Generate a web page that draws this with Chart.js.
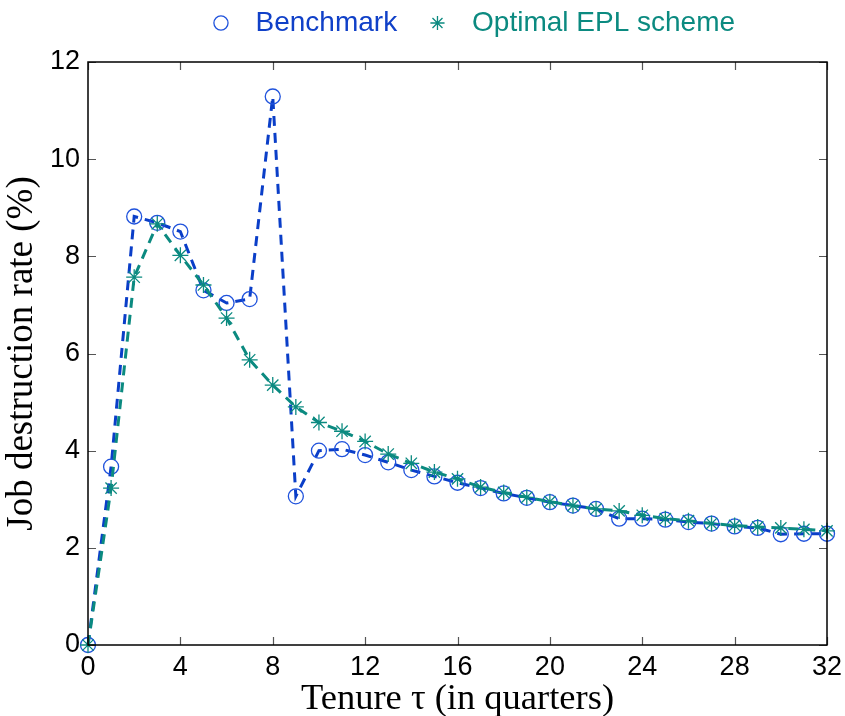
<!DOCTYPE html>
<html>
<head>
<meta charset="utf-8">
<script src="https://cdn.jsdelivr.net/npm/chart.js@4/dist/chart.umd.min.js"></script>
<style>
html,body{margin:0;padding:0;background:#fff;}
#wrap{width:845px;height:716px;position:relative;}
</style>
</head>
<body>
<div id="wrap"><canvas id="c" width="845" height="716"></canvas></div>
<script>
const tenure = [0,1,2,3,4,5,6,7,8,9,10,11,12,13,14,15,16,17,18,19,20,21,22,23,24,25,26,27,28,29,30,31,32];
const benchmark = [0,3.67,8.82,8.69,8.51,7.30,7.04,7.12,11.29,3.06,4.00,4.03,3.91,3.76,3.60,3.47,3.34,3.23,3.12,3.03,2.94,2.87,2.80,2.60,2.60,2.58,2.53,2.50,2.44,2.41,2.28,2.29,2.29];
const optimalEPL = [0,3.23,7.57,8.67,8.02,7.41,6.73,5.87,5.35,4.90,4.58,4.40,4.19,3.93,3.74,3.56,3.42,3.25,3.14,3.04,2.95,2.87,2.80,2.76,2.67,2.60,2.56,2.50,2.46,2.43,2.41,2.38,2.35];
const xTicks = [0,4,8,12,16,20,24,28,32];
const yTicks = [0,2,4,6,8,10,12];
const seriesNames = ['Benchmark','Optimal EPL scheme'];

const BLUE = '#0a3ec8';
const BLUE_PT = '#1f52dc';
const TEAL = '#0b8a80';

const boxPlugin = {
  id: 'boxTicks',
  afterLayout(chart) {
    const lg = chart.legend;
    if (lg) {
      const dx = 62, dy = -15;
      lg.left += dx; lg.right += dx;
      lg.top += dy; lg.bottom += dy;
    }
  },
  afterDatasetsDraw(chart) {
    const {ctx, chartArea: a, scales: {x, y}} = chart;
    ctx.save();
    ctx.strokeStyle = '#555';
    ctx.lineWidth = 1.2;
    const L = 8;
    ctx.beginPath();
    xTicks.forEach(v => {
      const px = Math.round(x.getPixelForValue(v)) + 0.5;
      ctx.moveTo(px, a.bottom); ctx.lineTo(px, a.bottom - L);
      ctx.moveTo(px, a.top); ctx.lineTo(px, a.top + L);
    });
    yTicks.forEach(v => {
      const py = Math.round(y.getPixelForValue(v)) + 0.5;
      ctx.moveTo(a.left, py); ctx.lineTo(a.left + L, py);
      ctx.moveTo(a.right, py); ctx.lineTo(a.right - L, py);
    });
    ctx.stroke();
    ctx.strokeStyle = '#000';
    ctx.lineWidth = 1.5;
    ctx.strokeRect(a.left, a.top, a.right - a.left, a.bottom - a.top);
    ctx.restore();
  }
};

new Chart(document.getElementById('c'), {
  type: 'line',
  data: {
    labels: tenure,
    datasets: [
      {
        label: seriesNames[0],
        data: tenure.map((t,i) => ({x: t, y: benchmark[i]})),
        borderColor: BLUE,
        borderWidth: 3,
        borderDash: [10, 7],
        pointStyle: 'circle',
        pointRadius: 7.5,
        pointBorderWidth: 1.3,
        pointBorderColor: BLUE_PT,
        pointBackgroundColor: 'rgba(0,0,0,0)',
        backgroundColor: 'rgba(0,0,0,0)',
        tension: 0,
        order: 2,
        clip: false
      },
      {
        label: seriesNames[1],
        data: tenure.map((t,i) => ({x: t, y: optimalEPL[i]})),
        borderColor: TEAL,
        borderWidth: 3,
        borderDash: [10, 7],
        pointStyle: 'star',
        pointRadius: 8,
        pointBorderWidth: 1.3,
        pointBorderColor: TEAL,
        pointBackgroundColor: TEAL,
        backgroundColor: 'rgba(0,0,0,0)',
        tension: 0,
        order: 1,
        clip: false
      }
    ]
  },
  options: {
    responsive: false,
    animation: false,
    devicePixelRatio: 1,
    layout: {padding: {left: 0, right: 18, top: 12, bottom: 0}},
    plugins: {
      tooltip: {enabled: false},
      legend: {
        position: 'top',
        labels: {
          usePointStyle: true,
          boxWidth: 10,
          boxHeight: 10,
          padding: 12,
          font: {family: 'Liberation Sans', size: 28},
          generateLabels(chart) {
            return chart.data.datasets.map((ds, i) => ({
              text: i === 0 ? '  ' + ds.label + '   ' : '  ' + ds.label,
              fontColor: i === 0 ? '#1040c8' : TEAL,
              strokeStyle: i === 0 ? BLUE_PT : TEAL,
              fillStyle: i === 0 ? 'rgba(0,0,0,0)' : TEAL,
              lineWidth: 1.3,
              pointStyle: ds.pointStyle,
              hidden: false,
              datasetIndex: i
            }));
          }
        }
      }
    },
    scales: {
      x: {
        type: 'linear',
        min: 0, max: 32,
        afterBuildTicks(s) { s.ticks = xTicks.map(v => ({value: v})); },
        afterFit(s) { s.height = 71; s.paddingLeft = 0; s.paddingRight = 0; },
        grid: {display: false, drawTicks: false},
        border: {display: false},
        ticks: {color: '#000', font: {family: 'Liberation Sans', size: 27}, padding: 6, maxRotation: 0},
        title: {display: true, text: 'Tenure τ (in quarters)', color: '#000',
                font: {family: 'Liberation Serif', size: 36.5, lineHeight: 0.9}, padding: {top: 0, bottom: 0}}
      },
      y: {
        type: 'linear',
        min: 0, max: 12,
        afterBuildTicks(s) { s.ticks = yTicks.map(v => ({value: v})); },
        afterFit(s) { s.width = 88; },
        grid: {display: false, drawTicks: false},
        border: {display: false},
        ticks: {color: '#000', font: {family: 'Liberation Sans', size: 27}, padding: 8},
        title: {display: true, text: 'Job destruction rate (%)', color: '#000',
                font: {family: 'Liberation Serif', size: 37}, padding: {top: 0, bottom: 0}}
      }
    }
  },
  plugins: [boxPlugin]
});
</script>
</body>
</html>
